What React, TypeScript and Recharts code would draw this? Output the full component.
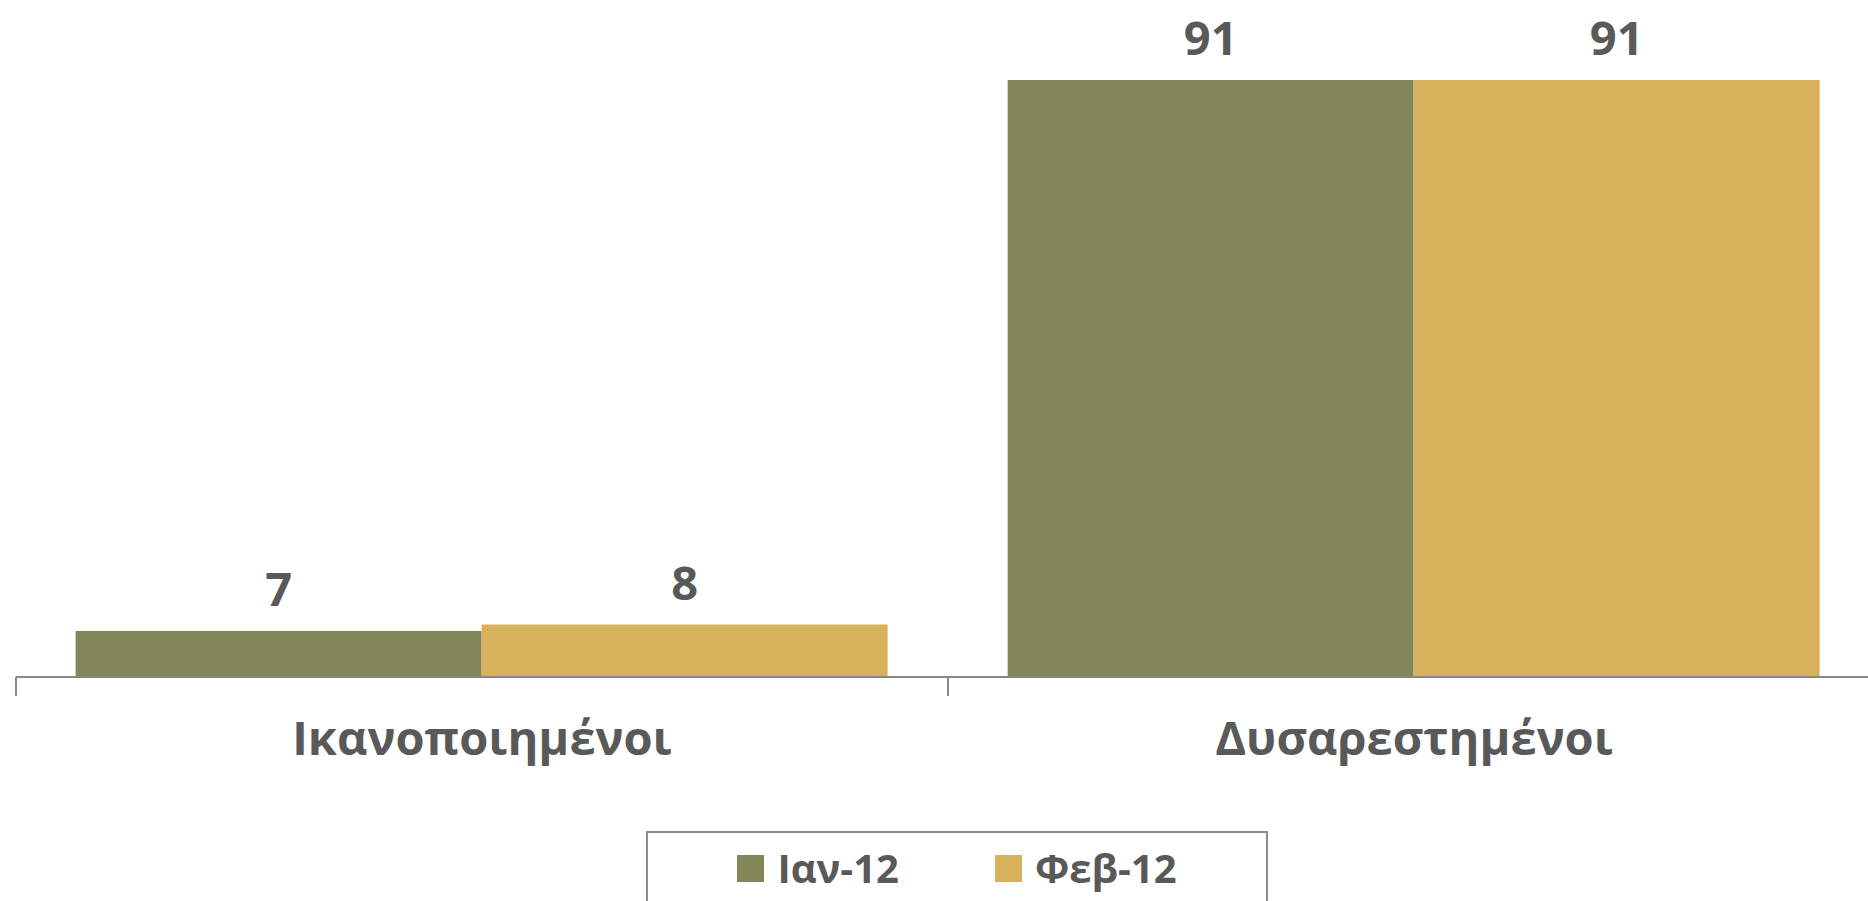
import { BarChart, Bar, XAxis, YAxis, LabelList } from "recharts";

const categories = ["Ικανοποιημένοι", "Δυσαρεστημένοι"];
const jan12 = [7, 91];
const feb12 = [8, 91];
const seriesNames = ["Ιαν-12", "Φεβ-12"];
const seriesColors = ["#82875A", "#D8B15D"];

const data = categories.map((name, i) => ({ name, jan: jan12[i], feb: feb12[i] }));

const FONT = "'Open Sans', sans-serif";
const TEXT = "#595959";
const AXIS = "#888888";
const TICK_MARGIN = 45;
const TICK_LEN = 19;

// category label plus the boundary tick marks (Excel style, ticks between categories)
function CategoryTick(props: any) {
  const { x, y, payload, index, visibleTicksCount } = props;
  const half = payload.offset || 0;
  const axisY = y - TICK_MARGIN;
  const isLast = index === visibleTicksCount - 1;
  return (
    <g>
      <line x1={x - half} x2={x - half} y1={axisY} y2={axisY + TICK_LEN} stroke={AXIS} strokeWidth={2} />
      {isLast && (
        <line x1={x + half} x2={x + half} y1={axisY} y2={axisY + TICK_LEN} stroke={AXIS} strokeWidth={2} />
      )}
      <text
        x={x}
        y={y}
        dy="0.71em"
        textAnchor="middle"
        fill={TEXT}
        fontSize={47}
        fontWeight={700}
        fontFamily={FONT}
      >
        {payload.value}
      </text>
    </g>
  );
}

function LegendBox() {
  return (
    <div
      style={{
        position: "absolute",
        left: 646,
        top: 831,
        boxSizing: "border-box",
        width: 622,
        height: 120,
        border: "2px solid #8c8c8c",
        display: "flex",
        justifyContent: "center",
        paddingTop: 19,
        gap: 96,
        fontFamily: FONT,
      }}
    >
      {seriesNames.map((s, i) => (
        <div key={s} style={{ display: "flex", alignItems: "center", height: 32 }}>
          <span style={{ width: 27, height: 27, backgroundColor: seriesColors[i], marginRight: 13 }} />
          <span style={{ fontSize: 40, fontWeight: 700, color: TEXT, lineHeight: "32px" }}>{s}</span>
        </div>
      ))}
    </div>
  );
}

export default function App() {
  return (
    <div
      style={{
        position: "fixed",
        left: 0,
        top: 0,
        width: 1868,
        height: 901,
        overflow: "hidden",
        background: "#fff",
      }}
    >
      <BarChart
        width={1880}
        height={901}
        data={data}
        margin={{ top: 21, right: 0, bottom: 124, left: 16 }}
        barCategoryGap="6.4%"
        barGap={0}
      >
        <XAxis
          dataKey="name"
          height={100}
          interval={0}
          tickLine={false}
          tickSize={0}
          tickMargin={TICK_MARGIN}
          axisLine={{ stroke: AXIS, strokeWidth: 2 }}
          tick={<CategoryTick />}
        />
        <YAxis hide domain={[0, 100]} />
        <Bar dataKey="jan" name={seriesNames[0]} fill={seriesColors[0]} isAnimationActive={false}>
          <LabelList
            dataKey="jan"
            position="top"
            offset={25}
            fill={TEXT}
            fontSize={47}
            fontWeight={700}
            fontFamily={FONT}
          />
        </Bar>
        <Bar dataKey="feb" name={seriesNames[1]} fill={seriesColors[1]} isAnimationActive={false}>
          <LabelList
            dataKey="feb"
            position="top"
            offset={25}
            fill={TEXT}
            fontSize={47}
            fontWeight={700}
            fontFamily={FONT}
          />
        </Bar>
      </BarChart>
      <LegendBox />
    </div>
  );
}
